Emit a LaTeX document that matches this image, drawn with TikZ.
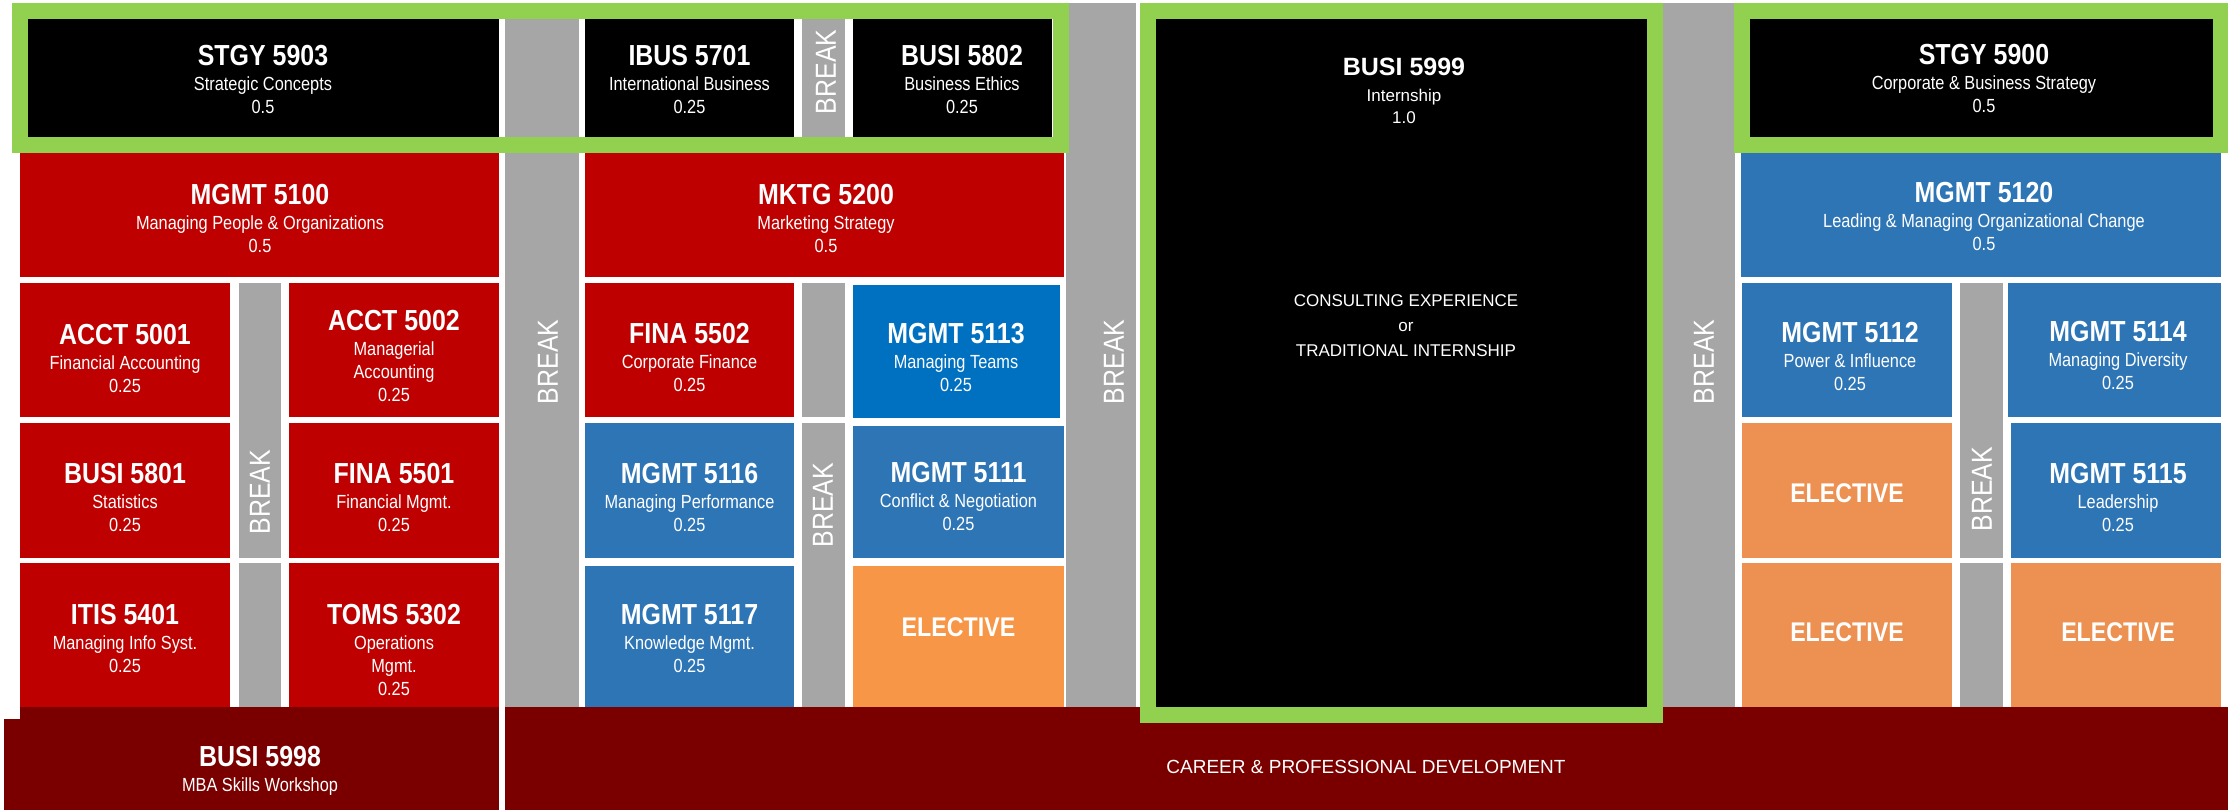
\documentclass[tikz,border=0pt]{standalone}
\usepackage{fontspec}
\setmainfont{Liberation Sans}
\newfontfamily\narrowfont[FakeStretch=0.86]{Liberation Sans}
\usepackage{tikz}

\definecolor{coursered}{RGB}{190,0,0}
\definecolor{bandred}{RGB}{122,0,0}
\definecolor{courseblue}{RGB}{46,117,182}
\definecolor{brightblue}{RGB}{0,112,192}
\definecolor{electiveorange}{RGB}{247,150,70}
\definecolor{paleorange}{RGB}{237,145,82}
\definecolor{breakgray}{RGB}{166,166,166}
\definecolor{framegreen}{RGB}{146,208,80}

\newcommand\coursecode[1]{{\bfseries\fontsize{29}{29}\selectfont #1}}

\begin{document}
\begin{tikzpicture}[x=1pt, y=-1pt,
    course/.style={text=white, align=center, inner sep=0pt, font=\narrowfont\fontsize{19}{23}\selectfont},
    elective/.style={text=white, inner sep=0pt, font=\narrowfont\bfseries\fontsize{27}{27}\selectfont},
    breaktext/.style={text=white, rotate=90, inner sep=0pt, font=\narrowfont\fontsize{29}{29}\selectfont},
    plaintext/.style={text=white, align=center, inner sep=0pt, font=\fontsize{17}{25}\selectfont}]
    \useasboundingbox (0,0) rectangle (2228,810);
    \fill[white] (0,0) rectangle (2228,810);

    % Break columns
    \foreach \xa/\xb in {505/579, 1066/1136, 1663/1735}
        \fill[breakgray] (\xa,3) rectangle (\xb,707);
    \foreach \xa/\xb/\ya/\yb in {239/281/283/558, 239/281/563/707, 802/845/19/137,
        802/845/283/417, 802/845/423/707, 1960/2003/283/558, 1960/2003/563/707}
        \fill[breakgray] (\xa,\ya) rectangle (\xb,\yb);

    % Black courses
    \foreach \xa/\ya/\xb/\yb in {28/19/499/137, 585/19/794/137, 853/19/1052/137,
        1750/19/2213/137, 1156/19/1647/707}
        \fill[black] (\xa,\ya) rectangle (\xb,\yb);

    % Red courses
    \foreach \xa/\ya/\xb/\yb in {20/153/499/277, 585/153/1064/277, 20/283/230/417,
        289/283/499/417, 20/423/230/558, 289/423/499/558, 20/563/230/707,
        289/563/499/707, 585/283/794/417}
        \fill[coursered] (\xa,\ya) rectangle (\xb,\yb);

    % Blue courses
    \fill[brightblue] (853,285) rectangle (1060,418);
    \foreach \xa/\ya/\xb/\yb in {585/423/794/558, 853/426/1064/558, 585/566/794/707,
        1741/153/2221/277, 1742/283/1952/417, 2008/283/2221/417, 2011/423/2221/558}
        \fill[courseblue] (\xa,\ya) rectangle (\xb,\yb);

    % Electives
    \fill[electiveorange] (853,566) rectangle (1064,707);
    \foreach \xa/\ya/\xb/\yb in {1742/423/1952/558, 1742/563/1952/707, 2011/563/2221/707}
        \fill[paleorange] (\xa,\ya) rectangle (\xb,\yb);

    % Bottom bands
    \fill[bandred] (20,707) rectangle (499,810);
    \fill[bandred] (4,719) rectangle (499,810);
    \fill[bandred] (505,707) rectangle (2228,810);

    % Green frames
    \draw[framegreen, line width=16pt] (20,11) rectangle (1060.5,145);
    \draw[framegreen, line width=16pt] (1148,11) rectangle (1655,714.5);
    \draw[framegreen, line width=16pt] (1742,11) rectangle (2221,145);

    % First term
    \node[course] (stgy5903) at (263,79) {\coursecode{STGY 5903}\\[2pt] Strategic Concepts\\ 0.5};
    \node[course] (mgmt5100) at (260,218) {\coursecode{MGMT 5100}\\[2pt] Managing People \& Organizations\\ 0.5};
    \node[course] (acct5001) at (125,358) {\coursecode{ACCT 5001}\\[2pt] Financial Accounting\\ 0.25};
    \node[course] (acct5002) at (394,356) {\coursecode{ACCT 5002}\\[2pt] Managerial\\ Accounting\\ 0.25};
    \node[course] (busi5801) at (125,497) {\coursecode{BUSI 5801}\\[2pt] Statistics\\ 0.25};
    \node[course] (fina5501) at (394,497) {\coursecode{FINA 5501}\\[2pt] Financial Mgmt.\\ 0.25};
    \node[course] (itis5401) at (125,638) {\coursecode{ITIS 5401}\\[2pt] Managing Info Syst.\\ 0.25};
    \node[course] (toms5302) at (394,650) {\coursecode{TOMS 5302}\\[2pt] Operations\\ Mgmt.\\ 0.25};
    \node[course] (busi5998) at (260,771) {\coursecode{BUSI 5998}\\[2pt] MBA Skills Workshop};

    % Second term
    \node[course] (ibus5701) at (689.5,79) {\coursecode{IBUS 5701}\\[2pt] International Business\\ 0.25};
    \node[course] (busi5802) at (962,79) {\coursecode{BUSI 5802}\\[2pt] Business Ethics\\ 0.25};
    \node[course] (mktg5200) at (826,218) {\coursecode{MKTG 5200}\\[2pt] Marketing Strategy\\ 0.5};
    \node[course] (fina5502) at (689.5,357) {\coursecode{FINA 5502}\\[2pt] Corporate Finance\\ 0.25};
    \node[course] (mgmt5113) at (956,357) {\coursecode{MGMT 5113}\\[2pt] Managing Teams\\ 0.25};
    \node[course] (mgmt5116) at (689.5,497) {\coursecode{MGMT 5116}\\[2pt] Managing Performance\\ 0.25};
    \node[course] (mgmt5111) at (958.5,496) {\coursecode{MGMT 5111}\\[2pt] Conflict \& Negotiation\\ 0.25};
    \node[course] (mgmt5117) at (689.5,638) {\coursecode{MGMT 5117}\\[2pt] Knowledge Mgmt.\\ 0.25};
    \node[elective] (elective1) at (958.5,627) {ELECTIVE};

    % Internship
    \node[plaintext, font=\fontsize{17}{22}\selectfont] (busi5999) at (1404,91)
        {{\bfseries\fontsize{25}{25}\selectfont BUSI 5999}\\[4pt] Internship\\ 1.0};
    \node[plaintext] (consulting) at (1406,326) {CONSULTING EXPERIENCE\\ or\\ TRADITIONAL INTERNSHIP};

    % Last term
    \node[course] (stgy5900) at (1984,78) {\coursecode{STGY 5900}\\[2pt] Corporate \& Business Strategy\\ 0.5};
    \node[course] (mgmt5120) at (1984,216) {\coursecode{MGMT 5120}\\[2pt] Leading \& Managing Organizational Change\\ 0.5};
    \node[course] (mgmt5112) at (1850,356) {\coursecode{MGMT 5112}\\[2pt] Power \& Influence\\ 0.25};
    \node[course] (mgmt5114) at (2118,355) {\coursecode{MGMT 5114}\\[2pt] Managing Diversity\\ 0.25};
    \node[elective] (elective2) at (1847,493) {ELECTIVE};
    \node[course] (mgmt5115) at (2118,497) {\coursecode{MGMT 5115}\\[2pt] Leadership\\ 0.25};
    \node[elective] (elective3) at (1847,632) {ELECTIVE};
    \node[elective] (elective4) at (2118,632) {ELECTIVE};

    % Breaks
    \foreach \x/\y [count=\i] in {548/362, 1114/362, 1704/362, 826/72, 260/492, 823/505, 1982/489}
        \node[breaktext] (break\i) at (\x,\y) {BREAK};

    \node[plaintext, font=\fontsize{19}{23}\selectfont] (career) at (1366,767) {CAREER \& PROFESSIONAL DEVELOPMENT};
\end{tikzpicture}
\end{document}
